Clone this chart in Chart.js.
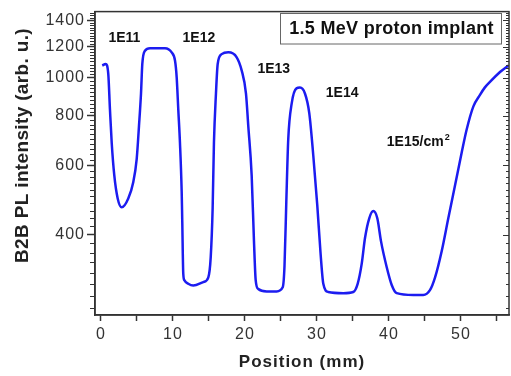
<!DOCTYPE html>
<html lang="en">
<head>
  <meta charset="UTF-8">
  <title>B2B PL intensity vs position</title>
  <script src="https://cdn.jsdelivr.net/npm/chart.js"></script>
  <style>
    body { margin: 0; background: #fff; }
    canvas { display: block; }
  </style>
</head>
<body>
  <canvas id="plChart" width="511" height="376"></canvas>

  <script>
    // Line scan: position (mm) and B2B PL intensity (arb. u.)
    const positionMm = [0.18, 0.65, 1.01, 1.25, 1.49, 1.85, 2.32, 2.88, 3.79, 4.49, 4.96, 5.28, 5.56, 5.74, 6.11, 6.81, 8.89, 9.82, 10.28, 10.51,
      10.74, 10.97, 11.21, 11.29, 11.43, 11.6, 12.12, 12.82, 14.21, 14.9, 15.24, 15.51, 15.69, 15.97, 16.21, 16.76, 17.68, 18.85, 19.54, 20.14, 20.46,
      20.93, 21.25, 21.49, 21.85, 23.01, 24.4, 25.24, 25.49, 25.74, 26.01, 26.49, 27.15, 27.64, 28.33, 28.93, 29.49, 30.04, 30.51, 30.88, 31.57,
      33.65, 35.04, 35.65, 36.21, 36.67, 37.26, 37.82, 38.38, 38.89, 39.68, 40.38, 41.07, 43.38, 44.76, 45.69, 46.39, 47.32, 48.24, 49.17, 50.1,
      50.79, 51.71, 52.64, 53.3, 54.03, 55.42, 56.57];
    const intensity = [1074, 1084, 1024, 829, 684, 565, 494, 469, 494, 544, 622, 755, 912, 1084, 1171, 1189, 1189, 1160, 1106, 1005,
      829, 684, 513, 432, 318, 306, 300, 297, 303, 311, 350, 467, 684, 912, 1084, 1148, 1160, 1127, 1044, 912, 754,
      565, 385, 306, 291, 287, 287, 294, 333, 484, 698, 861, 940, 944, 912, 813, 634, 475, 356, 300, 286,
      284, 286, 300, 337, 392, 440, 459, 440, 385, 331, 298, 284, 281, 281, 289, 311, 363, 440, 533, 646,
      739, 845, 905, 944, 976, 1034, 1074];

    const xTicks = [0, 5, 10, 15, 20, 25, 30, 35, 40, 45, 50, 55];
    const yTicks = [400, 600, 800, 1000, 1200, 1400];
    const doseLabels = ['1E11', '1E12', '1E13', '1E14'];
    const lastDoseLabel = '1E15/cm';
    const boxTitle = '1.5 MeV proton implant';

    Chart.defaults.font.family = '"Liberation Sans", Arial, sans-serif';

    const axisColor = '#333';

    // frame, minor ticks, dose labels, box and y title
    const decor = {
      id: 'decor',
      beforeDraw(chart) {
        chart.ctx.letterSpacing = '1px';
      },
      afterDraw(chart) {
        const { ctx, chartArea: a, scales: { x, y } } = chart;
        ctx.save();
        ctx.letterSpacing = '0px';
        ctx.strokeStyle = axisColor;
        ctx.lineWidth = 1.5;
        ctx.strokeRect(a.left, a.top, a.right - a.left, a.bottom - a.top);

        ctx.lineWidth = 1;
        ctx.beginPath();
        for (let v = 260; v < 1480; v += 20) {
          const py = Math.round(y.getPixelForValue(v)) + 0.5;
          if (py < a.top || py > a.bottom) continue;
          const major = yTicks.includes(v);
          if (!major) {
            ctx.moveTo(a.left - 5, py); ctx.lineTo(a.left, py);
          }
          ctx.moveTo(a.right, py); ctx.lineTo(a.right - (major ? 6 : 3), py);
        }
        ctx.stroke();

        // dose labels
        ctx.fillStyle = '#111';
        ctx.font = 'bold 14px "Liberation Sans", Arial, sans-serif';
        ctx.textAlign = 'center';
        ctx.textBaseline = 'middle';
        const spots = [[3.26, 1260], [13.6, 1260], [24.0, 1054], [33.5, 913]];
        doseLabels.forEach((t, i) => {
          ctx.fillText(t, x.getPixelForValue(spots[i][0]), y.getPixelForValue(spots[i][1]));
        });
        ctx.textAlign = 'left';
        const lx = x.getPixelForValue(39.7), ly = y.getPixelForValue(685);
        ctx.fillText(lastDoseLabel, lx, ly);
        const w = ctx.measureText(lastDoseLabel).width;
        ctx.font = 'bold 9px "Liberation Sans", Arial, sans-serif';
        ctx.fillText('2', lx + w + 1, ly - 5);

        // title box
        ctx.strokeStyle = '#666';
        ctx.lineWidth = 1;
        ctx.strokeRect(280.5, 13.5, 221, 30.5);
        ctx.font = 'bold 18px "Liberation Sans", Arial, sans-serif';
        ctx.letterSpacing = '0.3px';
        ctx.textAlign = 'center';
        ctx.fillText(boxTitle, 391.5, 29.5);

        // y axis title
        ctx.translate(22.5, 145.5);
        ctx.rotate(-Math.PI / 2);
        ctx.font = 'bold 19px "Liberation Sans", Arial, sans-serif';
        ctx.letterSpacing = '0.35px';
        ctx.fillStyle = '#222';
        ctx.fillText('B2B PL intensity (arb. u.)', 0, 0);
        ctx.restore();
      }
    };

    new Chart(document.getElementById('plChart'), {
      type: 'line',
      data: {
        datasets: [{
          data: positionMm.map((p, i) => ({ x: p, y: intensity[i] })),
          borderColor: '#1c1cf0',
          borderWidth: 2.5,
          pointRadius: 0,
          cubicInterpolationMode: 'monotone',
          fill: false
        }]
      },
      options: {
        responsive: false,
        animation: false,
        layout: { padding: { top: 7, right: 2, left: 0, bottom: 0 } },
        plugins: { legend: { display: false }, tooltip: { enabled: false } },
        scales: {
          x: {
            type: 'linear',
            min: -0.83,
            max: 56.67,
            afterBuildTicks: (s) => { s.ticks = xTicks.map(v => ({ value: v })); },
            afterFit: (s) => { s.height = 61; },
            ticks: {
              callback: (v) => (v % 10 === 0 ? v : ''),
              font: { size: 16 },
              color: axisColor,
              padding: 4,
              maxRotation: 0,
              autoSkip: false
            },
            grid: { drawOnChartArea: false, tickLength: 6, tickColor: axisColor, tickWidth: 1.5 },
            border: { color: axisColor, width: 1.5 },
            title: {
              display: true,
              text: 'Position (mm)',
              color: '#222',
              font: { size: 17, weight: 'bold' },
              padding: { top: 0, bottom: 3 }
            }
          },
          y: {
            type: 'logarithmic',
            min: 250,
            max: 1472,
            afterBuildTicks: (s) => { s.ticks = yTicks.map(v => ({ value: v })); },
            afterFit: (s) => { s.width = 95; },
            ticks: {
              callback: (v) => v,
              font: { size: 16 },
              color: axisColor,
              padding: 2,
              autoSkip: false
            },
            grid: { drawOnChartArea: false, tickLength: 8, tickColor: axisColor, tickWidth: 1.5 },
            border: { color: axisColor, width: 1.5 }
          }
        }
      },
      plugins: [decor]
    });
  </script>
</body>
</html>
